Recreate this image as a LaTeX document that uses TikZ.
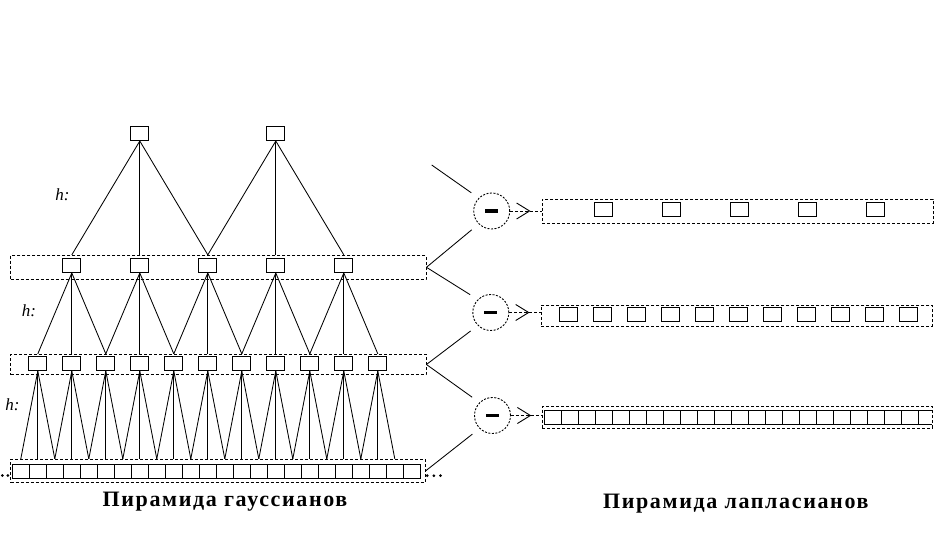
\documentclass[tikz,border=0pt]{standalone}
\usepackage{fontspec}
\setmainfont{Liberation Serif}
\newfontfamily\titlefont[LetterSpace=7.5]{Liberation Serif}
\usetikzlibrary{arrows.meta,decorations.markings}
\begin{document}
\begin{tikzpicture}[x=1pt,y=-1pt,line width=0.9pt,
  gbox/.style={draw,minimum width=18pt,minimum height=14.5pt,inner sep=0pt},
  cell/.style={draw,minimum width=17pt,minimum height=14pt,inner sep=0pt},
  frame/.style={draw,dash pattern=on 3pt off 2pt,inner sep=0pt},
  link/.style={line width=0.85pt},
  dlink/.style={line width=0.85pt,shorten >=9pt},
  minus/.style={circle,draw,dash pattern=on 2pt off 1.5pt,minimum size=36pt,inner sep=0pt},
  hlab/.style={font=\fontsize{17}{17}\selectfont\itshape},
  title/.style={font=\titlefont\fontsize{22}{24}\selectfont\bfseries,anchor=base},
  dot/.style={circle,fill,inner sep=0pt,minimum size=3pt},
  arrowline/.style={dash pattern=on 3pt off 2pt,postaction={decorate},
    decoration={markings,mark=at position 20.3pt with {\arrow{Straight Barb[length=13pt,width=16pt,line width=0.9pt]}}}}
]
\useasboundingbox (0,0) rectangle (944,545);

% ---------- Gaussian pyramid ----------
\node[frame,minimum width=415.3pt,minimum height=24pt] (G1) at (218.35,267.3) {};
\node[frame,minimum width=415.3pt,minimum height=20.4pt] (G2) at (218.35,364.5) {};
\node[frame,minimum width=414.6pt,minimum height=23pt] (G3) at (218,470.8) {};

\foreach \m in {0,1} \node[gbox] (T\m) at ({139.8+136*\m},133.3) {};
\foreach \i in {0,...,4} \node[gbox] (A\i) at ({71.8+68*\i},265.3) {};
\foreach \k in {0,...,10} \node[gbox] (B\k) at ({37.8+34*\k},363.3) {};
\foreach \j in {0,...,23} \node[cell] (C\j) at ({20.8+17*\j},471.3) {};

\foreach \m in {0,1}{\foreach \d in {0,1,2}{
  \pgfmathtruncatemacro\n{2*\m+\d}
  \draw[link] (T\m.south) -- (A\n.north |- G1.north);}}
\foreach \i in {0,...,4}{\foreach \d in {0,1,2}{
  \pgfmathtruncatemacro\n{2*\i+\d}
  \draw[link] (A\i.south) -- (B\n.north |- G2.north);}}
\foreach \k in {0,...,10}{\foreach \d in {0,1,2}{
  \pgfmathtruncatemacro\n{2*\k+\d}
  \draw[link] (B\k.south) -- (C\n.north |- G3.north);}}

\node[hlab] (h1) at (62.5,195) {h:};
\node[hlab] (h2) at (29,311) {h:};
\node[hlab] (h3) at (12.5,405) {h:};

\node[dot] (ld1) at (2.3,475.5) {};
\node[dot] (ld2) at (7.8,475.5) {};
\node[dot] (rd1) at (427.2,475.7) {};
\node[dot] (rd2) at (433.8,475.7) {};
\node[dot] (rd3) at (440.5,475.7) {};

% ---------- subtraction ----------
\node[minus] (M1) at (491.7,211) {\rule{13pt}{3.5pt}};
\node[minus] (M2) at (490.8,312.5) {\rule{13pt}{3.5pt}};
\node[minus] (M3) at (492.5,415.5) {\rule{13pt}{3.5pt}};

\coordinate (top) at (431.7,165);
\draw[dlink] (top) -- (M1.north west);
\draw[dlink] (G1.east) -- (M1.south west);
\draw[dlink] (G1.east) -- (M2.north west);
\draw[dlink] (G2.east) -- (M2.south west);
\draw[dlink] (G2.east) -- (M3.north west);
\draw[dlink] (G3.east) -- (M3.south west);

% ---------- Laplacian pyramid ----------
\node[frame,minimum width=391pt,minimum height=24pt] (P1) at (737.8,211.3) {};
\node[frame,minimum width=391pt,minimum height=21pt] (P2) at (736.8,315.8) {};
\node[frame,minimum width=390pt,minimum height=21.7pt] (P3) at (737.3,417.2) {};

\foreach \i in {0,...,4} \node[gbox] (D\i) at ({603+68*\i},209.5) {};
\foreach \k in {0,...,10} \node[gbox] (E\k) at ({568.7+34*\k},314.3) {};
\draw (932,410) -- (544,410) -- (544,424.3) -- (932,424.3);
\foreach \j in {1,...,22} \draw ({544+17*\j},410) -- ({544+17*\j},424.3);

\draw[arrowline] (M1.east) -- (M1.east -| P1.west);
\draw[arrowline] (M2.east) -- (M2.east -| P2.west);
\draw[arrowline] (M3.east) -- (M3.east -| P3.west);

% ---------- titles ----------
\node[title] (t1) at (225,506.7) {Пирамида гауссианов};
\node[title] (t2) at (735.8,508.3) {Пирамида лапласианов};
\end{tikzpicture}
\end{document}
